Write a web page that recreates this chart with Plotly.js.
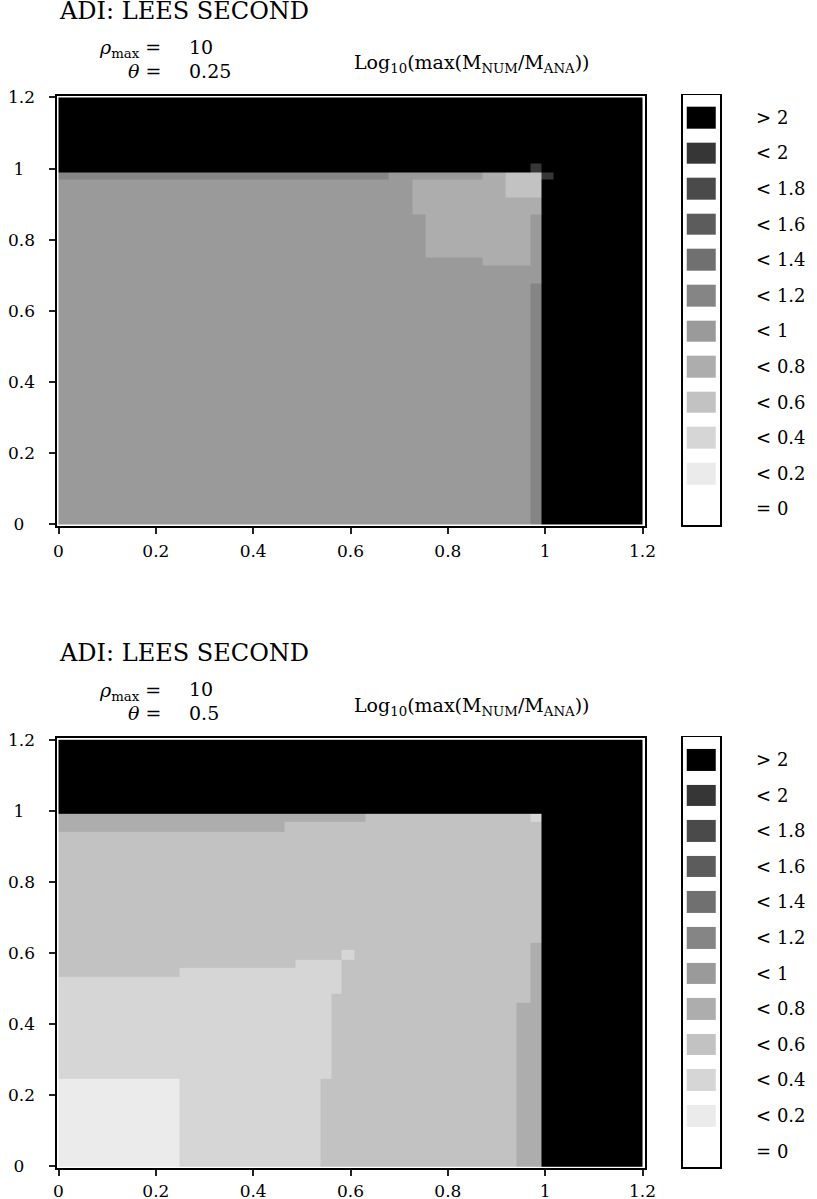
<!DOCTYPE html>
<html>
<head>
<meta charset="utf-8">
<script src="https://cdn.plot.ly/plotly-3.0.1.min.js"></script>
<style>
  html, body { margin: 0; padding: 0; background: #fff; }
  #chart { width: 817px; height: 1199px; }
</style>
</head>
<body>
<div id="chart"></div>
<script>
// classes of Log10(max(Mnum/Mana)), index 0 = lightest
var levelLabels = ['= 0', '&lt; 0.2', '&lt; 0.4', '&lt; 0.6', '&lt; 0.8', '&lt; 1',
                   '&lt; 1.2', '&lt; 1.4', '&lt; 1.6', '&lt; 1.8', '&lt; 2', '&gt; 2'];
var levelColors = ['#ffffff', '#ebebeb', '#d6d6d6', '#c2c2c2', '#adadad', '#9a9a9a',
                   '#858585', '#707070', '#5c5c5c', '#4a4a4a', '#363636', '#000000'];

var panelTitle = 'ADI: LEES SECOND';
var rhoMax = '10';

// axis ticks (0 and 1 padded so they sit centred under the wider labels)
var tickVals = [0, 0.2, 0.4, 0.6, 0.8, 1, 1.2];
var xTickText = ['0', '0.2', '0.4', '0.6', '0.8', '1', '1.2'];
var yTickText = ['0\u00a0\u00a0', '0.2', '0.4', '0.6', '0.8', '1\u00a0\u00a0', '1.2'];

// top panel (theta = 0.25): cell edges and class index per cell, rows from y = 0 upwards
var topTheta = '0.25';
var topX = [0, 0.678, 0.727, 0.754, 0.872, 0.919, 0.97, 0.992, 1.017, 1.2];
var topY = [0, 0.678, 0.726, 0.751, 0.872, 0.919, 0.968, 0.99, 1.015, 1.2];
var topZ = [
    [5, 5, 5, 5, 5, 5, 6, 11, 11],
    [5, 5, 5, 5, 5, 5, 5, 11, 11],
    [5, 5, 5, 5, 4, 4, 5, 11, 11],
    [5, 5, 5, 4, 4, 4, 5, 11, 11],
    [5, 5, 4, 4, 4, 4, 4, 11, 11],
    [5, 5, 4, 4, 4, 3, 3, 11, 11],
    [6, 5, 5, 5, 4, 3, 3, 10, 11],
    [11, 11, 11, 11, 11, 11, 10, 11, 11],
    [11, 11, 11, 11, 11, 11, 11, 11, 11]
];

// bottom panel (theta = 0.5)
var botTheta = '0.5';
var botX = [0, 0.248, 0.464, 0.486, 0.539, 0.56, 0.582, 0.609, 0.631, 0.942, 0.97, 0.992, 1.2];
var botY = [0, 0.246, 0.461, 0.485, 0.533, 0.559, 0.58, 0.608, 0.629, 0.942, 0.969, 0.991, 1.2];
var botZ = [
    [1, 2, 2, 2, 3, 3, 3, 3, 3, 4, 4, 11],
    [2, 2, 2, 2, 2, 3, 3, 3, 3, 4, 4, 11],
    [2, 2, 2, 2, 2, 3, 3, 3, 3, 3, 4, 11],
    [2, 2, 2, 2, 2, 2, 3, 3, 3, 3, 4, 11],
    [3, 2, 2, 2, 2, 2, 3, 3, 3, 3, 4, 11],
    [3, 3, 3, 2, 2, 2, 3, 3, 3, 3, 4, 11],
    [3, 3, 3, 3, 3, 3, 2, 3, 3, 3, 4, 11],
    [3, 3, 3, 3, 3, 3, 3, 3, 3, 3, 4, 11],
    [3, 3, 3, 3, 3, 3, 3, 3, 3, 3, 3, 11],
    [4, 4, 3, 3, 3, 3, 3, 3, 3, 3, 3, 11],
    [4, 4, 4, 4, 4, 4, 4, 4, 3, 3, 2, 11],
    [11, 11, 11, 11, 11, 11, 11, 11, 11, 11, 11, 11]
];

var W = 817, H = 1199;
var FONT = 'DejaVu Serif, serif';
var scale = levelColors.map(function (c, i) { return [i / 11, c]; });
var levelIndex = levelLabels.map(function (_, i) { return [i]; });

function px(x) { return x / W; }
function py(y) { return 1 - y / H; }

function mapTrace(x, y, z, xa, ya) {
    return {
        type: 'heatmap', x: x, y: y, z: z, xaxis: xa, yaxis: ya,
        colorscale: scale, zmin: 0, zmax: 11, zsmooth: false,
        showscale: false, hoverinfo: 'skip'
    };
}

function keyTrace(xa, ya) {
    return {
        type: 'heatmap', x: [0], y: levelIndex.map(function (r) { return r[0]; }), z: levelIndex,
        xaxis: xa, yaxis: ya, colorscale: scale, zmin: 0, zmax: 11,
        xgap: 8, ygap: 14, showscale: false, hoverinfo: 'skip'
    };
}

var data = [
    mapTrace(topX, topY, topZ, 'x', 'y'),
    mapTrace(botX, botY, botZ, 'x2', 'y2'),
    keyTrace('x3', 'y3'),
    keyTrace('x4', 'y4')
];

function mapAxis(dom, anchor, isX, standoff) {
    return {
        domain: dom, anchor: anchor,
        range: isX ? [-0.0041, 1.2041] : [-0.0056, 1.2056],
        tickvals: tickVals, ticktext: isX ? xTickText : yTickText,
        ticks: 'outside', ticklen: 6, tickwidth: 2,
        tickcolor: '#222', showline: true, linecolor: '#000', linewidth: 2,
        mirror: true, showgrid: false, zeroline: false,
        ticklabelstandoff: standoff,
        tickfont: {family: FONT, size: 17, color: '#000'}
    };
}

function keyAxis(dom, anchor, isX) {
    var ax = {
        domain: dom, anchor: anchor, showgrid: false, zeroline: false,
        showline: true, linecolor: '#000', linewidth: 1.5, mirror: true,
        fixedrange: true
    };
    if (isX) {
        ax.range = [-0.5, 0.5];
        ax.showticklabels = false;
        ax.ticks = '';
    } else {
        ax.range = [-0.45, 11.63];
        ax.side = 'right';
        ax.tickvals = levelIndex.map(function (r) { return r[0]; });
        ax.ticktext = levelLabels;
        ax.ticks = '';
        ax.ticklabelstandoff = 31;
        ax.tickfont = {family: FONT, size: 18, color: '#000'};
    }
    return ax;
}

var xDom = [px(56.5), px(644.5)];
var keyDom = [px(682.7), px(720)];
var topDom = [py(526), py(95.5)];
var botDom = [py(1168.3), py(737.8)];
var topKey = [py(525), py(95)];
var botKey = [py(1167.3), py(737.3)];

function headerNotes(dy, theta) {
    var f = {family: FONT, size: 19, color: '#000'};
    return [
        {text: panelTitle, x: px(57), y: py(11 + dy), xanchor: 'left', yanchor: 'middle',
         font: {family: FONT, size: 24, color: '#000'}},
        {text: '<i>ρ</i><sub>max</sub> =', x: px(163), y: py(49 + dy), xanchor: 'right', yanchor: 'middle', font: f},
        {text: rhoMax, x: px(187), y: py(47 + dy), xanchor: 'left', yanchor: 'middle', font: f},
        {text: '<i>θ</i> =', x: px(163), y: py(71 + dy), xanchor: 'right', yanchor: 'middle', font: f},
        {text: theta, x: px(187), y: py(71 + dy), xanchor: 'left', yanchor: 'middle', font: f},
        {text: 'Log<sub>10</sub>(max(M<sub>NUM</sub>/M<sub>ANA</sub>))', x: px(352), y: py(64 + dy),
         xanchor: 'left', yanchor: 'middle', font: {family: FONT, size: 19, color: '#000'}}
    ];
}

var annotations = headerNotes(0, topTheta).concat(headerNotes(642.3, botTheta));
annotations.forEach(function (a) { a.xref = 'paper'; a.yref = 'paper'; a.showarrow = false; });

var layout = {
    width: W, height: H,
    margin: {l: 0, r: 0, t: 0, b: 0},
    paper_bgcolor: '#fff', plot_bgcolor: '#fff',
    showlegend: false,
    xaxis: mapAxis(xDom, 'y', true, 3),
    yaxis: mapAxis(topDom, 'x', false, 10),
    xaxis2: mapAxis(xDom, 'y2', true, 0),
    yaxis2: mapAxis(botDom, 'x2', false, 10),
    xaxis3: keyAxis(keyDom, 'y3', true),
    yaxis3: keyAxis(topKey, 'x3', false),
    xaxis4: keyAxis(keyDom, 'y4', true),
    yaxis4: keyAxis(botKey, 'x4', false),
    annotations: annotations
};

Plotly.newPlot('chart', data, layout, {staticPlot: true, displayModeBar: false});
</script>
</body>
</html>
